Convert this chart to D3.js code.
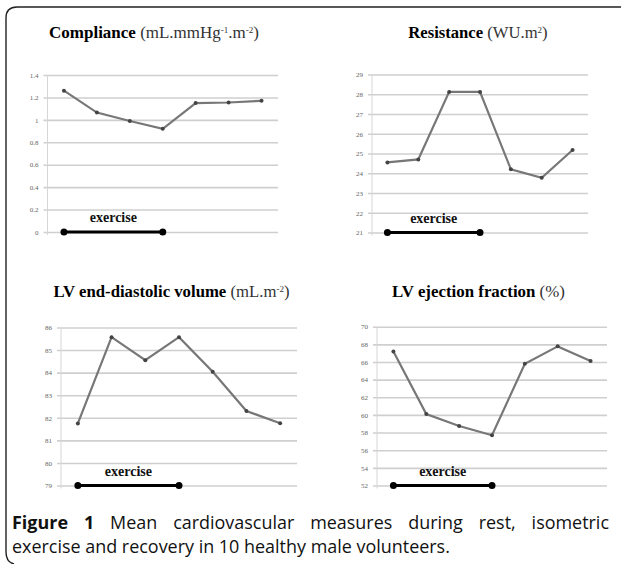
<!DOCTYPE html>
<html>
<head>
<meta charset="utf-8">
<script src="https://cdn.jsdelivr.net/npm/d3@7"></script>
<style>
  body { margin: 0; background: #fff; }
  svg { display: block; }
</style>
</head>
<body>
<svg id="fig" width="622" height="564"></svg>
<script>
// time points (no x labels in the figure)
const categories = ["rest", "ex1", "ex2", "ex3", "rec1", "rec2", "rec3"];
const exerciseSpan = ["rest", "ex3"];

const complianceValues = [1.26, 1.065, 0.99, 0.92, 1.15, 1.155, 1.17];
const resistanceValues = [24.55, 24.7, 28.12, 28.12, 24.2, 23.77, 25.18];
const edvValues = [81.75, 85.57, 84.55, 85.57, 84.04, 82.3, 81.76];
const efValues = [67.2, 60.1, 58.75, 57.7, 65.8, 67.77, 66.1];

const complianceTicks = [0, 0.2, 0.4, 0.6, 0.8, 1, 1.2, 1.4];
const resistanceTicks = [21, 22, 23, 24, 25, 26, 27, 28, 29];
const edvTicks = [79, 80, 81, 82, 83, 84, 85, 86];
const efTicks = [52, 54, 56, 58, 60, 62, 64, 66, 68, 70];

const captionLine1 = ["Figure 1", "Mean cardiovascular measures during rest, isometric"];
const captionLine2 = "exercise and recovery in 10 healthy male volunteers.";

const panels = [
  { name: "Compliance", unit: [["(mL.mmHg", 0], ["-1", 1], [".m", 0], ["-2", 1], [")", 0]],
    values: complianceValues, ticks: complianceTicks,
    box: { left: 47.5, right: 278, top: 75, bottom: 232 },
    title: { x0: 48, x1: 260, y: 38 } },
  { name: "Resistance", unit: [["(WU.m", 0], ["2", 1], [")", 0]],
    values: resistanceValues, ticks: resistanceTicks,
    box: { left: 372, right: 588, top: 74.5, bottom: 232.5 },
    title: { x0: 408, x1: 548, y: 38 } },
  { name: "LV end-diastolic volume", unit: [["(mL.m", 0], ["-2", 1], [")", 0]],
    values: edvValues, ticks: edvTicks,
    box: { left: 61, right: 297, top: 327.5, bottom: 485.5 },
    title: { x0: 53, x1: 290, y: 297 } },
  { name: "LV ejection fraction", unit: [["(%)", 0]],
    values: efValues, ticks: efTicks,
    box: { left: 377, right: 607, top: 326.7, bottom: 485.5 },
    title: { x0: 392, x1: 565, y: 297 } }
];

const svg = d3.select("#fig");
const serif = "'Liberation Serif', 'DejaVu Serif', serif";

// frame: top and left edge with rounded corners
svg.append("path")
  .attr("d", "M621,7 L17,7 Q6,7 6,18 L6,552 Q6,562 14,564")
  .attr("fill", "none")
  .attr("stroke", "#222")
  .attr("stroke-width", 1.4);

panels.forEach(p => {
  const b = p.box;
  const x = d3.scaleBand().domain(categories).range([b.left, b.right]).padding(0);
  const y = d3.scaleLinear().domain(d3.extent(p.ticks)).range([b.bottom, b.top]);
  const g = svg.append("g");

  // gridlines with labels
  const yAxis = d3.axisLeft(y)
    .tickValues(p.ticks)
    .tickSize(-(b.right - b.left + 4))
    .tickPadding(5)
    .tickFormat(d => String(d));
  const ax = g.append("g")
    .attr("transform", `translate(${b.left - 4},0)`)
    .call(yAxis);
  ax.select(".domain").remove();
  ax.selectAll(".tick line").attr("stroke", "#cfcfcf").attr("stroke-width", 1.6);
  ax.selectAll(".tick text")
    .attr("fill", "#666")
    .attr("font-family", serif)
    .attr("font-size", 7);

  // vertical axis line
  g.append("line")
    .attr("x1", b.left).attr("x2", b.left)
    .attr("y1", y.range()[1]).attr("y2", y.range()[0] + 3)
    .attr("stroke", "#d6d6d6").attr("stroke-width", 1);

  const cx = d => x(d) + x.bandwidth() / 2;

  // data line
  g.append("path")
    .datum(p.values)
    .attr("fill", "none")
    .attr("stroke", "#777")
    .attr("stroke-width", 2.2)
    .attr("d", d3.line().x((d, i) => cx(categories[i])).y(d => y(d)));

  g.selectAll("circle.pt")
    .data(p.values)
    .join("circle")
    .attr("class", "pt")
    .attr("cx", (d, i) => cx(categories[i]))
    .attr("cy", d => y(d))
    .attr("r", 2)
    .attr("fill", "#444");

  // exercise bar on baseline
  const base = y.domain()[0];
  const ex0 = cx(exerciseSpan[0]), ex1 = cx(exerciseSpan[1]);
  g.append("line")
    .attr("x1", ex0).attr("x2", ex1)
    .attr("y1", y(base)).attr("y2", y(base))
    .attr("stroke", "#000").attr("stroke-width", 3);
  g.selectAll("circle.ex")
    .data(exerciseSpan)
    .join("circle")
    .attr("class", "ex")
    .attr("cx", d => cx(d))
    .attr("cy", y(base))
    .attr("r", 3.5)
    .attr("fill", "#000");
  g.append("text")
    .attr("x", (ex0 + ex1) / 2)
    .attr("y", y(base) - 10)
    .attr("text-anchor", "middle")
    .attr("font-family", serif)
    .attr("font-weight", "bold")
    .attr("font-size", 14)
    .attr("fill", "#111")
    .text("exercise");

  // title
  const t = g.append("text")
    .attr("x", (p.title.x0 + p.title.x1) / 2)
    .attr("y", p.title.y)
    .attr("text-anchor", "middle")
    .attr("font-family", serif)
    .attr("font-size", 15);
  t.append("tspan").attr("font-weight", "bold").attr("fill", "#000").text(p.name + " ");
  p.unit.forEach(([s, sup]) => {
    const ts = t.append("tspan").attr("fill", "#333").text(s);
    if (sup) ts.attr("font-size", 9).attr("baseline-shift", "super");
  });
  const w = t.node().getComputedTextLength();
  t.attr("font-size", 15 * (p.title.x1 - p.title.x0) / w);
});

// caption
const sans = "'Open Sans', 'DejaVu Sans', sans-serif";
const c1 = svg.append("text")
  .attr("x", 12).attr("y", 529)
  .attr("font-family", sans).attr("font-size", 15).attr("fill", "#111");
c1.append("tspan").attr("font-weight", "bold").text(captionLine1[0]);
c1.append("tspan").text(" " + captionLine1[1]);
const c2 = svg.append("text")
  .attr("x", 12).attr("y", 553)
  .attr("font-family", sans).attr("font-size", 15).attr("fill", "#111")
  .text(captionLine2);
const fs = 15 * 438 / c2.node().getComputedTextLength();
c2.attr("font-size", fs);
c1.attr("font-size", fs);
// justify first line by spreading the gaps between words
const gaps = (captionLine1[0] + " " + captionLine1[1]).split(" ").length - 1;
const extra = (609 - 12 - c1.node().getComputedTextLength()) / gaps;
c1.attr("word-spacing", Math.max(0, extra));
</script>
</body>
</html>
